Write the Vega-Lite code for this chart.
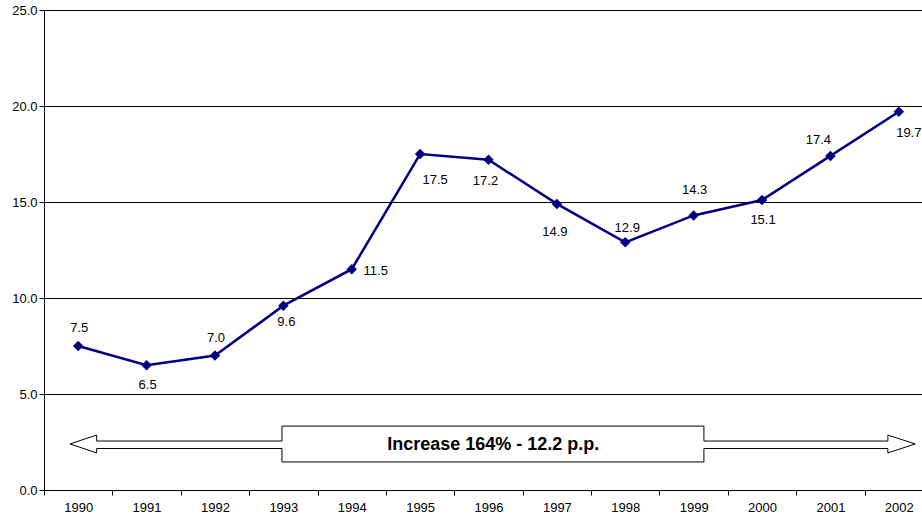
{
  "$schema": "https://vega.github.io/schema/vega-lite/v6.json",
  "width": 878,
  "height": 480,
  "autosize": "none",
  "padding": {"left": 44, "top": 10, "right": 0, "bottom": 29},
  "background": "white",
  "config": {
    "view": {"stroke": null},
    "font": "Liberation Sans",
    "axis": {"labelFont": "Liberation Sans"},
    "text": {"font": "Liberation Sans", "fontSize": 13, "color": "#000000", "baseline": "middle"}
  },
  "datasets": {
    "rate": [
      {"year": "1990", "value": 7.5},
      {"year": "1991", "value": 6.5},
      {"year": "1992", "value": 7.0},
      {"year": "1993", "value": 9.6},
      {"year": "1994", "value": 11.5},
      {"year": "1995", "value": 17.5},
      {"year": "1996", "value": 17.2},
      {"year": "1997", "value": 14.9},
      {"year": "1998", "value": 12.9},
      {"year": "1999", "value": 14.3},
      {"year": "2000", "value": 15.1},
      {"year": "2001", "value": 17.4},
      {"year": "2002", "value": 19.7}
    ],
    "arrow": [
      {"i": 0, "u": 0.38, "v": 2.40},
      {"i": 1, "u": 0.77, "v": 2.86},
      {"i": 2, "u": 0.77, "v": 2.55},
      {"i": 3, "u": 3.48, "v": 2.55},
      {"i": 4, "u": 3.48, "v": 3.33},
      {"i": 5, "u": 9.65, "v": 3.33},
      {"i": 6, "u": 9.65, "v": 2.55},
      {"i": 7, "u": 12.34, "v": 2.55},
      {"i": 8, "u": 12.34, "v": 2.86},
      {"i": 9, "u": 12.74, "v": 2.40},
      {"i": 10, "u": 12.34, "v": 1.93},
      {"i": 11, "u": 12.34, "v": 2.16},
      {"i": 12, "u": 9.65, "v": 2.16},
      {"i": 13, "u": 9.65, "v": 1.46},
      {"i": 14, "u": 3.48, "v": 1.46},
      {"i": 15, "u": 3.48, "v": 2.16},
      {"i": 16, "u": 0.77, "v": 2.16},
      {"i": 17, "u": 0.77, "v": 1.93},
      {"i": 18, "u": 0.38, "v": 2.40}
    ],
    "note": [
      {"u": 6.57, "v": 2.34, "label": "Increase 164% - 12.2 p.p."}
    ]
  },
  "resolve": {"scale": {"x": "independent"}},
  "layer": [
    {
      "data": {"name": "rate"},
      "encoding": {
        "x": {
          "field": "year",
          "type": "ordinal",
          "title": null,
          "scale": {"type": "band", "paddingInner": 0, "paddingOuter": 0, "range": [0, 889]},
          "axis": {
            "labelAngle": 0,
            "tickBand": "extent",
            "tickSize": 5,
            "tickColor": "#000000",
            "domainColor": "#000000",
            "labelFontSize": 13,
            "labelColor": "#000000",
            "labelPadding": 6,
            "grid": false
          }
        },
        "y": {
          "field": "value",
          "type": "quantitative",
          "title": null,
          "scale": {"domain": [0, 25], "nice": false, "zero": true},
          "axis": {
            "values": [0, 5, 10, 15, 20, 25],
            "format": ".1f",
            "tickSize": 5,
            "tickColor": "#000000",
            "domainColor": "#000000",
            "gridColor": "#000000",
            "gridOpacity": 1,
            "labelFontSize": 13,
            "labelColor": "#000000",
            "labelPadding": 2
          }
        }
      },
      "layer": [
        {
          "mark": {
            "type": "line",
            "color": "#000080",
            "strokeWidth": 2.5,
            "point": {"shape": "diamond", "size": 110, "filled": true, "color": "#000080", "opacity": 1}
          }
        },
        {
          "transform": [{"filter": "datum.year == '1990' || datum.year == '1992'"}],
          "mark": {"type": "text", "dy": -18, "dx": 1},
          "encoding": {"text": {"field": "value", "type": "quantitative", "format": ".1f"}}
        },
        {
          "transform": [{"filter": "datum.year == '1998'"}],
          "mark": {"type": "text", "dy": -14, "dx": 2},
          "encoding": {"text": {"field": "value", "type": "quantitative", "format": ".1f"}}
        },
        {
          "transform": [{"filter": "datum.year == '1999'"}],
          "mark": {"type": "text", "dy": -25, "dx": 1},
          "encoding": {"text": {"field": "value", "type": "quantitative", "format": ".1f"}}
        },
        {
          "transform": [{"filter": "datum.year == '2001'"}],
          "mark": {"type": "text", "dy": -16, "dx": -12},
          "encoding": {"text": {"field": "value", "type": "quantitative", "format": ".1f"}}
        },
        {
          "transform": [{"filter": "datum.year == '1991' || datum.year == '2000'"}],
          "mark": {"type": "text", "dy": 20, "dx": 1},
          "encoding": {"text": {"field": "value", "type": "quantitative", "format": ".1f"}}
        },
        {
          "transform": [{"filter": "datum.year == '1996'"}],
          "mark": {"type": "text", "dy": 21, "dx": -3},
          "encoding": {"text": {"field": "value", "type": "quantitative", "format": ".1f"}}
        },
        {
          "transform": [{"filter": "datum.year == '1993'"}],
          "mark": {"type": "text", "dy": 16, "dx": 3},
          "encoding": {"text": {"field": "value", "type": "quantitative", "format": ".1f"}}
        },
        {
          "transform": [{"filter": "datum.year == '1997'"}],
          "mark": {"type": "text", "dy": 28, "dx": -2},
          "encoding": {"text": {"field": "value", "type": "quantitative", "format": ".1f"}}
        },
        {
          "transform": [{"filter": "datum.year == '1994'"}],
          "mark": {"type": "text", "dy": 2, "dx": 24},
          "encoding": {"text": {"field": "value", "type": "quantitative", "format": ".1f"}}
        },
        {
          "transform": [{"filter": "datum.year == '1995'"}],
          "mark": {"type": "text", "dy": 26, "dx": 15},
          "encoding": {"text": {"field": "value", "type": "quantitative", "format": ".1f"}}
        },
        {
          "transform": [{"filter": "datum.year == '2002'"}],
          "mark": {"type": "text", "dy": 21, "dx": 10},
          "encoding": {"text": {"field": "value", "type": "quantitative", "format": ".1f"}}
        }
      ]
    },
    {
      "data": {"name": "arrow"},
      "mark": {"type": "line", "color": "#000000", "strokeWidth": 1, "interpolate": "linear"},
      "encoding": {
        "x": {"field": "u", "type": "quantitative", "scale": {"domain": [0, 13], "range": [0, 889], "nice": false, "zero": false}, "axis": null},
        "y": {"field": "v", "type": "quantitative"},
        "order": {"field": "i", "type": "quantitative"}
      }
    },
    {
      "data": {"name": "note"},
      "mark": {"type": "text", "fontSize": 18, "fontWeight": "bold"},
      "encoding": {
        "x": {"field": "u", "type": "quantitative", "scale": {"domain": [0, 13], "range": [0, 889], "nice": false, "zero": false}, "axis": null},
        "y": {"field": "v", "type": "quantitative"},
        "text": {"field": "label", "type": "nominal"}
      }
    }
  ]
}
